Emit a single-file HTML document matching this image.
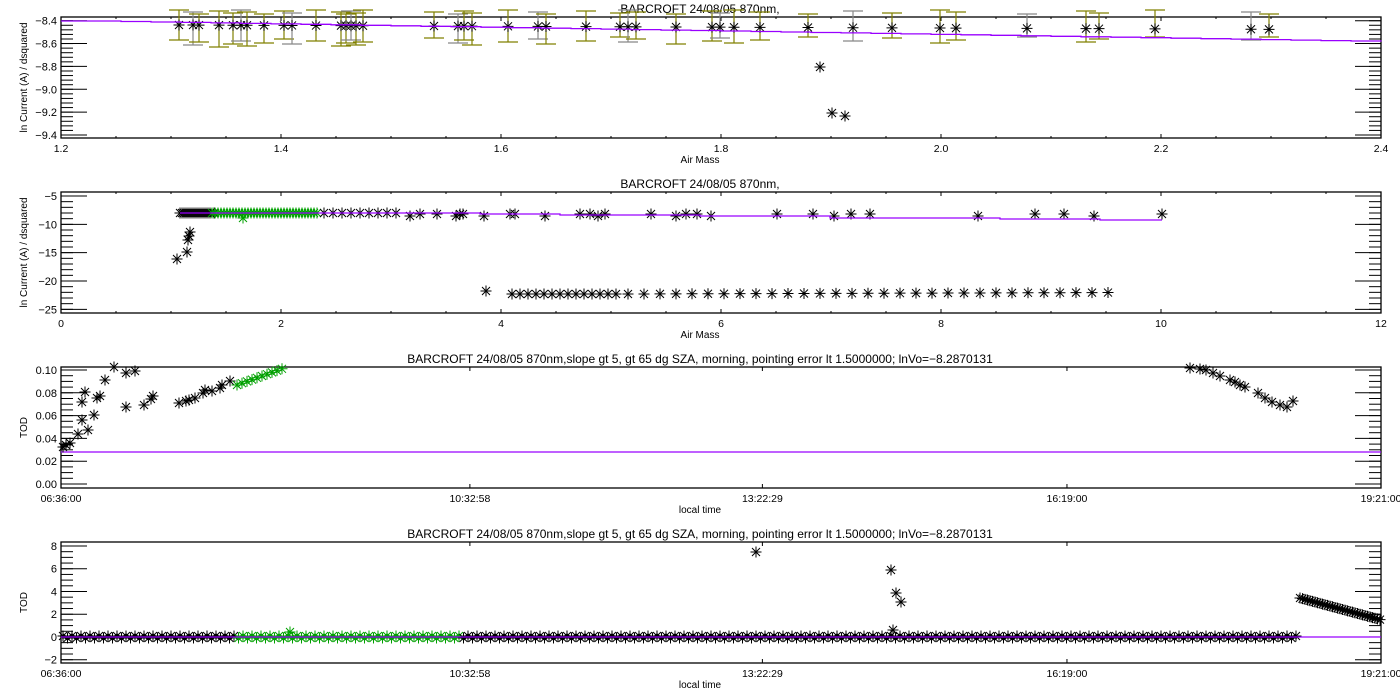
<!DOCTYPE html>
<html><head><meta charset="utf-8"><style>
html,body{margin:0;padding:0;background:#fff;}
svg{display:block;font-family:"Liberation Sans",sans-serif;}
</style></head><body>
<svg id="s" width="1400" height="700" xmlns="http://www.w3.org/2000/svg"></svg>
<script>
var S=document.getElementById('s'),out=[];
var L=61,R=1381;
function ln(x1,y1,x2,y2,c,w){out.push('<line x1="'+x1+'" y1="'+y1+'" x2="'+x2+'" y2="'+y2+'" stroke="'+(c||'#000')+'" stroke-width="'+(w||1)+'"/>');}
function tx(x,y,t,a,sz,rot){out.push('<text x="'+x+'" y="'+y+'" font-size="'+(sz||10)+'" text-anchor="'+(a||'middle')+'"'+(rot?' transform="rotate(-90 '+x+' '+y+')"':'')+'>'+t+'</text>');}
function star(x,y,c){c=c||'#000';var r=5.5,d=4;out.push('<path d="M'+(x-r)+' '+y+'h'+(2*r)+'M'+x+' '+(y-r)+'v'+(2*r)+'M'+(x-d)+' '+(y-d)+'l'+(2*d)+' '+(2*d)+'M'+(x-d)+' '+(y+d)+'l'+(2*d)+' '+(-2*d)+'" stroke="'+c+'" stroke-width="1" fill="none"/>');}
function frame(T,B,ymaj,yminor,yfn,ylab,xt,xminor,title,xlab){
  out.push('<rect x="'+L+'" y="'+T+'" width="'+(R-L)+'" height="'+(B-T)+'" fill="none" stroke="#000" stroke-width="1.3"/>');
  ymaj.forEach(function(v){var y=yfn(v[0]);ln(L,y,L+26,y);ln(R,y,R-26,y);tx(L-4,y+4,v[1],'end',11);});
  yminor.forEach(function(v){var y=yfn(v);ln(L,y,L+12,y);ln(R,y,R-12,y);});
  xt.forEach(function(v){ln(v[0],B,v[0],B-4);ln(v[0],T,v[0],T+4);tx(v[0],B+14,v[1],'middle',10.5);});
  (xminor||[]).forEach(function(x){ln(x,B,x,B-2);ln(x,T,x,T+2);});
  tx(700,T-4,title,'middle',12);
  tx(700,B+25,xlab,'middle',10);
  tx(27,(T+B)/2,ylab,'middle',10,true);
}
// Panel 1
var T1=17,B1=138;function y1(v){return 20.7+(-8.4-v)*114.3;}function x1(v){return L+(v-1.2)*1100;}
var maj=[],mn=[];for(var v=-8.4;v>=-9.41;v-=0.2){maj.push([v,(v<0?'\u2212':'')+Math.abs(v).toFixed(1)]);}
for(var v=-8.4;v>=-9.41;v-=0.04){mn.push(v);}
var xt=[],xm=[];for(var v=1.2;v<=2.41;v+=0.2)xt.push([x1(v),v.toFixed(1)]);for(var v=1.2;v<=2.4;v+=0.05)xm.push(x1(v));
frame(T1,B1,maj,mn,y1,'ln Current (A) / dsquared',xt,xm,'BARCROFT 24/08/05 870nm,','Air Mass');
var p1=[179,193,199,219,233,241,247,264,284,292,316,341,346,351,356,363,434,458,464,472,508,538,546,586,620,628,636,676,712,720,734,760,808,853,892,940,956,1027,1086,1099,1155,1251,1269];
p1.forEach(function(x,i){var col=(i%4==1)?'#888':'#808000';var top=10+((i*7)%5),bot=40+((i*5)%8)-Math.floor(i/8);if(bot<37)bot=37;
 ln(x,top,x,bot,col,1.2);ln(x-10,top,x+10,top,col,1.2);ln(x-10,bot,x+10,bot,col,1.2);});
p1.forEach(function(x){star(x,25+(x-179)*0.004);});
star(820,67);star(832,113);star(845,116);
var pl='M61 21';for(var x=61;x<1381;x+=30){var y=21+(x-61)*21/1320;pl+='H'+(x+30)+'V'+y.toFixed(1);}
out.push('<path d="'+pl+'" stroke="#9900ff" fill="none" stroke-width="1.3"/>');
// Panel 2
var T2=192,B2=313;function y2(v){return 196+(-5-v)*5.667;}function x2(v){return L+v*110;}
maj=[];mn=[];for(var v=-5;v>=-25;v-=5)maj.push([v,'\u2212'+Math.abs(v)]);for(var v=-5;v>=-25;v-=1)mn.push(v);
xt=[];xm=[];for(var v=0;v<=12;v+=2)xt.push([x2(v),String(v)]);for(var v=0;v<=12;v+=0.5)xm.push(x2(v));
frame(T2,B2,maj,mn,y2,'ln Current (A) / dsquared',xt,xm,'BARCROFT 24/08/05 870nm,','Air Mass');
for(var x=180;x<215;x+=2)star(x,213);
for(var x=212;x<320;x+=3)star(x,213,'#00a000');star(243,218,'#00a000');
for(var x=324;x<405;x+=9)star(x,213);
[410,420,437,456,460,463,484,510,515,545,580,590,598,605,651,676,686,697,711,777,813,834,851,870,978,1035,1064,1094,1162].forEach(function(x,i){star(x,213+(i%3?1:3));});
star(177,259);star(187,252);star(189,236);star(190,232);star(188,240);
star(486,291);for(var x=512;x<620;x+=8)star(x,294);for(var x=628;x<=1117;x+=16)star(x,294-(x-628)*0.003);
out.push('<path d="M180 213H480V214H560V215H700V216H830V218H1000V219H1100V220H1162" stroke="#9900ff" fill="none" stroke-width="1.3"/>');
// Panels 3 & 4 time axis
function xt3(){var tt=[[0,'06:36:00'],[14218,'10:32:58'],[24389,'13:22:29'],[34980,'16:19:00'],[45900,'19:21:00']];return tt.map(function(t){return [L+t[0]*1320/45900,t[1]];});}
var title3='BARCROFT 24/08/05 870nm,slope gt 5, gt 65 dg SZA, morning, pointing error lt 1.5000000; lnVo=\u22128.2870131';
var T3=367,B3=488;function y3(v){return 370+(0.1-v)*1140;}
maj=[];mn=[];for(var v=0;v<=0.1001;v+=0.02)maj.push([v,v.toFixed(2)]);for(var v=0;v<=0.1001;v+=0.005)mn.push(v);
frame(T3,B3,maj,mn,y3,'TOD',xt3(),null,title3,'local time');
out.push('<line x1="61" y1="452" x2="1381" y2="452" stroke="#9900ff" stroke-width="1.3"/>');
[[63,447],[66,445],[70,443],[78,434],[82,420],[82,402],[85,392],[88,430],[94,415],[97,398],[100,396],[105,380],[114,367],[126,373],[135,371],[126,407],[144,405],[151,399],[153,396],[179,403],[186,401],[189,400],[195,398],[203,393],[205,390],[212,391],[220,388],[222,385],[230,381],[1190,368],[1200,369],[1206,370],[1213,373],[1220,376],[1230,380],[1235,382],[1240,385],[1245,387],[1258,393],[1265,398],[1272,402],[1280,405],[1287,407],[1293,401]].forEach(function(p){star(p[0],p[1]);});
for(var x=237;x<=282;x+=5)star(x,385-(x-237)*0.36,'#00a000');
// Panel 4
var T4=542,B4=663;function y4(v){return 546+(8-v)*11.37;}
maj=[];mn=[];for(var v=-2;v<=8;v+=2)maj.push([v,(v<0?'\u2212':'')+Math.abs(v)]);for(var v=-2;v<=8;v+=0.5)mn.push(v);
frame(T4,B4,maj,mn,y4,'TOD',xt3(),null,title3,'local time');
for(var x=63;x<1300;x+=4.5){var g=(x>235&&x<460);star(x,637+((Math.round(x)*7)%3)-1,g?'#00a000':'#000');}
star(290,632,'#00a000');star(756,552);star(891,570);star(896,593);star(901,602);star(893,630);
for(var x=1300;x<=1381;x+=2.5)star(x,598+(x-1300)*0.27);
out.push('<line x1="61" y1="637" x2="1381" y2="637" stroke="#9900ff" stroke-width="1.3"/>');
S.innerHTML=out.join('');
</script>
</body></html>
